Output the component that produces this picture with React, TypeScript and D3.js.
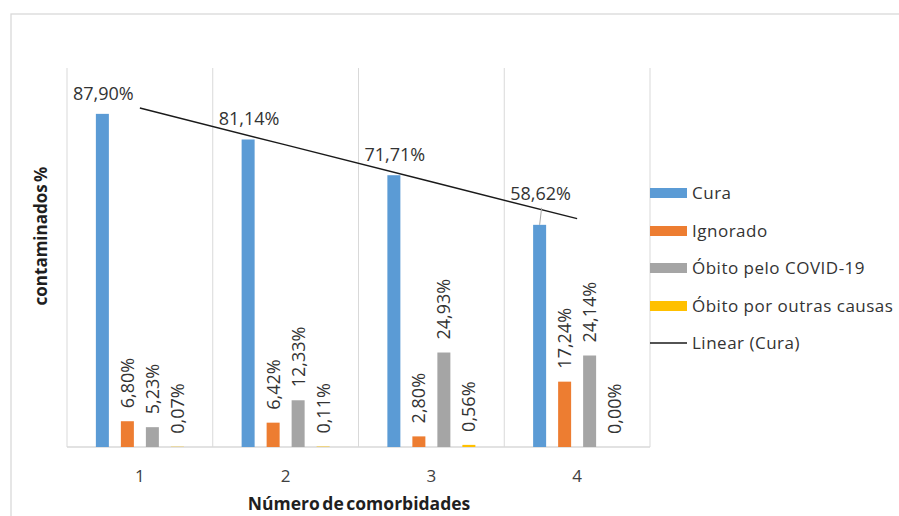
import React from "react";
import * as d3 from "d3";

const categories = ["1", "2", "3", "4"];
const seriesNames = ["Cura", "Ignorado", "Óbito pelo COVID-19", "Óbito por outras causas"];
const cura = [87.9, 81.14, 71.71, 58.62];
const ignorado = [6.8, 6.42, 2.8, 17.24];
const obitoCovid = [5.23, 12.33, 24.93, 24.14];
const obitoOutras = [0.07, 0.11, 0.56, 0.0];
const seriesColors = ["#5b9bd5", "#ed7d31", "#a5a5a5", "#ffc000"];
const trendLabel = "Linear (Cura)";
const xTitle = "Número de comorbidades";
const yTitle = "contaminados %";

const fmt = (v: number) => v.toFixed(2).replace(".", ",") + "%";

export default function App() {
  const W = 899, H = 516;
  const left = 67, right = 650, top = 68, bottom = 447;
  const values = [cura, ignorado, obitoCovid, obitoOutras];

  const x = d3.scaleBand<string>().domain(categories).range([left, right]);
  const bw = x.bandwidth();
  const inner = d3
    .scaleBand<string>()
    .domain(seriesNames)
    .range([bw / 2 - 50, bw / 2 + 50])
    .paddingInner(0.48)
    .paddingOuter(0.24);
  const y = d3.scaleLinear().domain([0, 100]).range([bottom, top]);

  // linear trendline of Cura
  const xs = categories.map((_, i) => i + 1);
  const mx = d3.mean(xs)!;
  const my = d3.mean(cura)!;
  const slope =
    d3.sum(xs.map((xi, i) => (xi - mx) * (cura[i] - my))) /
    d3.sum(xs.map((xi) => (xi - mx) ** 2));
  const icpt = my - slope * mx;
  const cx = (i: number) => x(categories[i])! + bw / 2;
  const trend = d3
    .line<number>()
    .x((i) => cx(i))
    .y((i) => y(icpt + slope * (i + 1)));

  const font = "'Open Sans', 'Noto Sans', sans-serif";
  const gridLines = [...categories.map((c) => x(c)!), right];

  const legendY = [193, 231, 268, 306, 343];

  return (
    <svg
      width={W}
      height={H}
      style={{ position: "absolute", left: 0, top: 0, background: "#fff" }}
      fontFamily={font}
    >
      <rect x={0} y={0} width={W} height={H} fill="#fff" />
      <rect x={11} y={14} width={W} height={H} fill="none" stroke="#d9d9d9" strokeWidth={1.3} />

      {gridLines.map((gx, i) => (
        <line key={i} x1={gx} x2={gx} y1={top} y2={bottom} stroke="#d9d9d9" strokeWidth={1} />
      ))}
      <line x1={left} x2={right} y1={bottom} y2={bottom} stroke="#d9d9d9" strokeWidth={1.3} />

      {values.map((arr, s) =>
        arr.map((v, i) => {
          const bx = x(categories[i])! + inner(seriesNames[s])!;
          return (
            <rect
              key={`b${s}-${i}`}
              x={bx}
              y={y(v)}
              width={inner.bandwidth()}
              height={bottom - y(v)}
              fill={seriesColors[s]}
            />
          );
        })
      )}

      {/* trendline */}
      <path d={trend(xs.map((_, i) => i))!} fill="none" stroke="#1a1a1a" strokeWidth={1.4} />

      {/* Cura labels (horizontal) */}
      {cura.map((v, i) => {
        const bx = x(categories[i])! + inner(seriesNames[0])! + inner.bandwidth() / 2;
        const shift = i === 3 ? -11 : 0;
        const base = y(v) - 14 + shift;
        return (
          <g key={`cl${i}`}>
            {shift !== 0 && (
              <line x1={bx + 2} y1={base + 8} x2={bx} y2={y(v)} stroke="#a6a6a6" strokeWidth={1} />
            )}
            <text x={bx + 1} y={base} textAnchor="middle" fontSize={18} fill="#333">
              {fmt(v)}
            </text>
          </g>
        );
      })}

      {/* other labels (rotated) */}
      {values.slice(1).map((arr, s0) =>
        arr.map((v, i) => {
          const s = s0 + 1;
          const bx = x(categories[i])! + inner(seriesNames[s])! + inner.bandwidth() / 2;
          const yy = y(v) - 13;
          return (
            <text
              key={`rl${s}-${i}`}
              transform={`translate(${bx + 6.5},${yy}) rotate(-90)`}
              textAnchor="start"
              fontSize={18}
              fill="#333"
            >
              {fmt(v)}
            </text>
          );
        })
      )}

      {/* x tick labels */}
      {categories.map((c) => (
        <text key={`t${c}`} x={x(c)! + bw / 2} y={482} textAnchor="middle" fontSize={17} fill="#404040">
          {c}
        </text>
      ))}

      {/* axis titles */}
      <text x={359} y={510} textAnchor="middle" fontSize={17.5} fontWeight={700} fill="#1f1f1f" wordSpacing={-2}>
        {xTitle}
      </text>
      <text
        transform={`translate(47,236) rotate(-90)`}
        textAnchor="middle"
        fontSize={17}
        fontWeight={700}
        fill="#1f1f1f"
        wordSpacing={-2}
      >
        {yTitle}
      </text>

      {/* legend */}
      {seriesNames.map((n, i) => (
        <g key={`lg${i}`}>
          <rect x={650} y={legendY[i] - 5} width={37} height={10} fill={seriesColors[i]} />
          <text x={692} y={legendY[i] + 6} fontSize={17} letterSpacing={0.5} fill="#333">
            {n}
          </text>
        </g>
      ))}
      <line x1={650} x2={687} y1={legendY[4]} y2={legendY[4]} stroke="#1a1a1a" strokeWidth={1.4} />
      <text x={692} y={legendY[4] + 6} fontSize={17} letterSpacing={0.5} fill="#333">
        {trendLabel}
      </text>
    </svg>
  );
}
